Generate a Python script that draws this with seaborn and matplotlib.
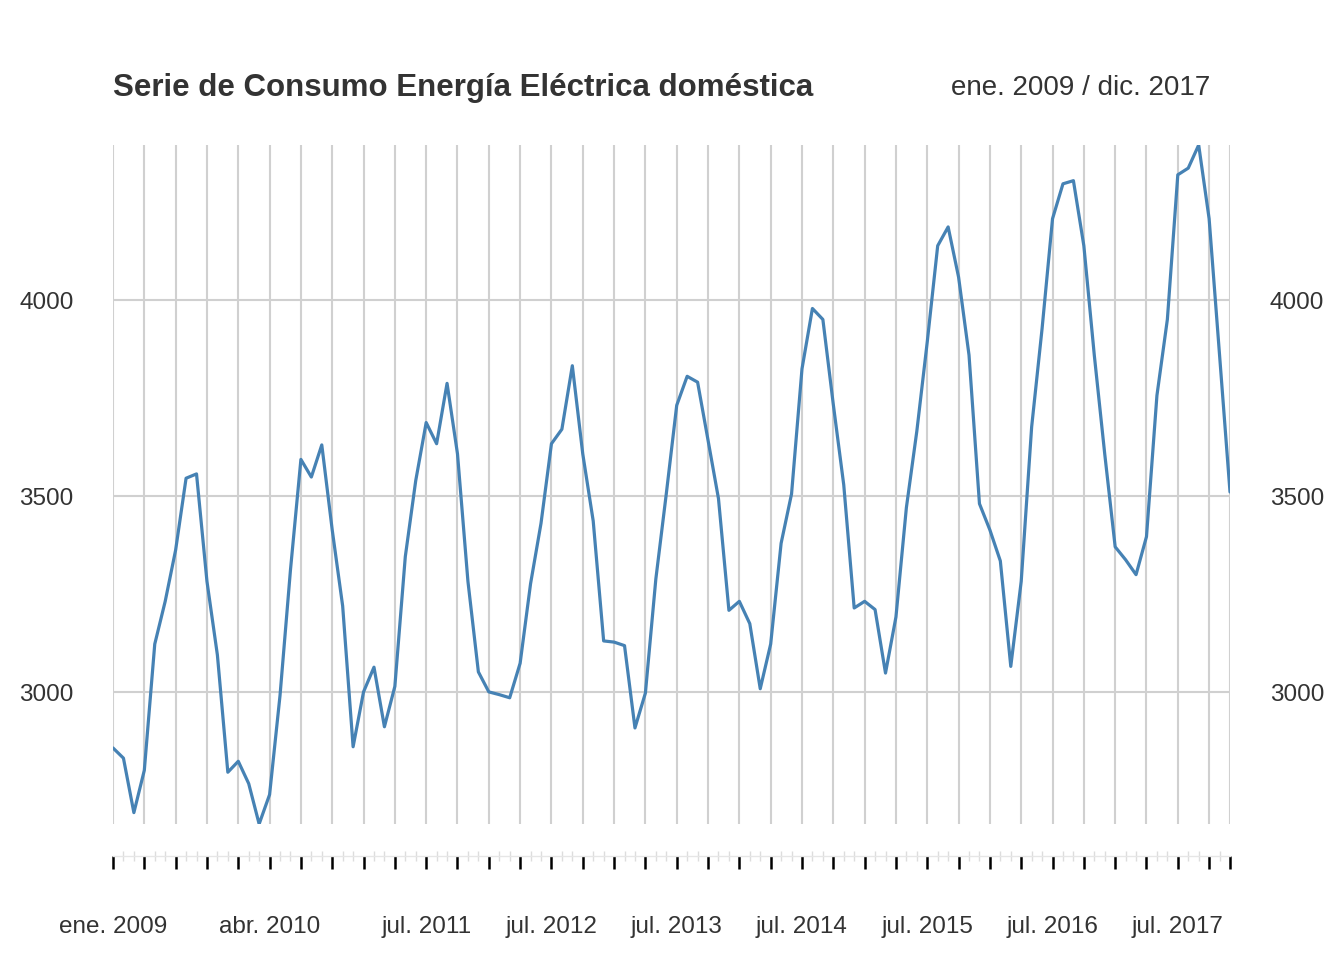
import numpy as np
import pandas as pd
import seaborn as sns
import matplotlib.pyplot as plt

# monthly consumption, ene. 2009 .. dic. 2017
consumo = [
    2858, 2832, 2693, 2801, 3123, 3232, 3363, 3546, 3557, 3283, 3095, 2796,
    2824, 2767, 2664, 2739, 2992, 3312, 3594, 3549, 3631, 3414, 3220, 2861,
    3001, 3064, 2912, 3015, 3346, 3540, 3688, 3634, 3788, 3608, 3283, 3052,
    3001, 2994, 2986, 3074, 3277, 3431, 3634, 3671, 3833, 3608, 3437, 3131,
    3128, 3119, 2909, 2998, 3289, 3506, 3732, 3806, 3791, 3643, 3494, 3209,
    3232, 3175, 3009, 3123, 3380, 3506, 3825, 3979, 3951, 3734, 3529, 3215,
    3232, 3211, 3049, 3192, 3471, 3666, 3894, 4139, 4187, 4059, 3860, 3481,
    3414, 3335, 3066, 3283, 3677, 3928, 4208, 4297, 4305, 4139, 3860, 3608,
    3371, 3338, 3300, 3397, 3757, 3951, 4320, 4337, 4396, 4208, 3860, 3511,
]
label_pos = [0, 15, 30, 42, 54, 66, 78, 90, 102]
label_txt = ["ene. 2009", "abr. 2010", "jul. 2011", "jul. 2012", "jul. 2013",
             "jul. 2014", "jul. 2015", "jul. 2016", "jul. 2017"]
y_ticks = [3000, 3500, 4000]

df = pd.DataFrame({"mes": np.arange(len(consumo)), "consumo": consumo})

sns.set_style("white")
plt.rcParams["font.family"] = ["Arial", "Liberation Sans", "DejaVu Sans"]

W, H = 1344, 960
fig = plt.figure(figsize=(W / 100, H / 100), dpi=100)
ax = fig.add_axes([113 / W, 1 - 824 / H, (1230 - 113) / W, (824 - 145) / H])

grid_c = "#d0d0d0"
for q in range(0, len(consumo), 3):
    ax.axvline(q, color=grid_c, lw=1.5, zorder=0)
ax.axvline(len(consumo) - 1, color=grid_c, lw=1.5, zorder=0)
for yv in y_ticks:
    ax.axhline(yv, color=grid_c, lw=1.5, zorder=0)

sns.lineplot(data=df, x="mes", y="consumo", ax=ax, color="steelblue", lw=2.3)

ax.set_xlim(0, len(consumo) - 1)
ax.set_ylim(min(consumo), max(consumo))
ax.set_xlabel("")
ax.set_ylabel("")

for s in ["top", "left", "right"]:
    ax.spines[s].set_visible(False)
ax.spines["bottom"].set_position(("outward", 23))
ax.spines["bottom"].set_color("#e6e6e6")
ax.spines["bottom"].set_linewidth(1.0)

ax.set_xticks(list(range(0, len(consumo), 3)) + [len(consumo) - 1])
ax.set_xticklabels([])
ax.set_xticks(range(len(consumo)), minor=True)
ax.tick_params(axis="x", which="major", bottom=True, length=9, width=1.8,
               color="black", direction="out")
ax.tick_params(axis="x", which="minor", bottom=True, length=7, width=1,
               color="#dddddd", direction="inout")
for p, t in zip(label_pos, label_txt):
    ax.text(p, -0.152, t, transform=ax.get_xaxis_transform(), ha="center", va="center",
            fontsize=17.5, color="#333333")

ax.set_yticks(y_ticks)
ax.tick_params(axis="y", which="both", left=False, right=False, labelleft=True,
               labelright=True, labelsize=17.5, labelcolor="#333333", pad=25)

fig.text(113 / W, 1 - 88 / H, "Serie de Consumo Energía Eléctrica doméstica",
         fontsize=22.5, fontweight="bold", color="#333333", ha="left", va="center")
fig.text(1210 / W, 1 - 88 / H, "ene. 2009 / dic. 2017",
         fontsize=20, color="#333333", ha="right", va="center")

fig.savefig("out.png", dpi=100, facecolor="white")
